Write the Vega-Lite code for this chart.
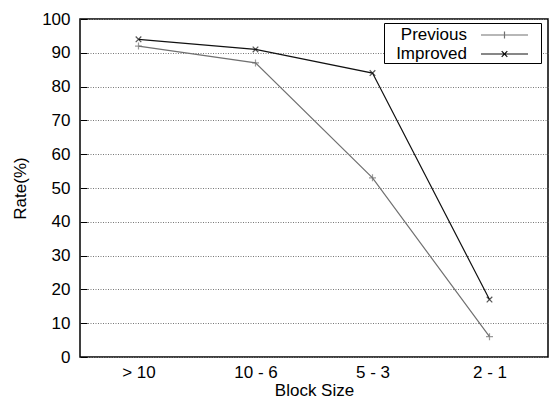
{
  "$schema": "https://vega.github.io/schema/vega-lite/v6.json",
  "width": 468,
  "height": 338,
  "autosize": {"type": "none"},
  "padding": {"left": 80, "top": 19, "right": 6, "bottom": 43},
  "background": "white",
  "config": {
    "font": "Liberation Sans",
    "view": {"stroke": "black", "strokeWidth": 1.5},
    "axis": {
      "labelFont": "Liberation Sans",
      "titleFont": "Liberation Sans",
      "labelFontSize": 17,
      "titleFontSize": 17,
      "titleFontWeight": "normal",
      "labelColor": "black",
      "titleColor": "black",
      "domain": false
    }
  },
  "data": {
    "values": [
      {"series": "Previous", "size": "> 10", "rate": 92},
      {"series": "Previous", "size": "10 - 6", "rate": 87},
      {"series": "Previous", "size": "5 - 3", "rate": 53},
      {"series": "Previous", "size": "2 - 1", "rate": 6},
      {"series": "Improved", "size": "> 10", "rate": 94},
      {"series": "Improved", "size": "10 - 6", "rate": 91},
      {"series": "Improved", "size": "5 - 3", "rate": 84},
      {"series": "Improved", "size": "2 - 1", "rate": 17}
    ]
  },
  "encoding": {
    "x": {
      "field": "size", "type": "ordinal", "sort": null,
      "scale": {"type": "point", "padding": 0.5},
      "axis": {"title": "Block Size", "labelAngle": 0, "ticks": false, "grid": false, "labelPadding": 7, "titlePadding": 2}
    },
    "y": {
      "field": "rate", "type": "quantitative",
      "scale": {"domain": [0, 100], "nice": false},
      "axis": {"title": "Rate(%)", "values": [0,10,20,30,40,50,60,70,80,90,100], "tickSize": -7, "tickColor": "black", "labelPadding": 17, "titlePadding": 12,
        "grid": true, "gridColor": "#777", "gridDash": [1, 1.5], "gridWidth": 1}
    },
    "color": {
      "field": "series", "type": "nominal",
      "scale": {"domain": ["Previous", "Improved"], "range": ["#707070", "#111111"]},
      "legend": null
    }
  },
  "layer": [
    {
      "mark": {"type": "line", "strokeWidth": 1.2},
      "encoding": {"detail": {"field": "series"}}
    },
    {
      "mark": {"type": "point", "filled": false, "strokeWidth": 1.2, "size": 49},
      "encoding": {
        "shape": {
          "field": "series", "type": "nominal",
          "scale": {"domain": ["Previous", "Improved"], "range": ["M-1,0H1M0,-1V1", "M-0.8,-0.8L0.8,0.8M-0.8,0.8L0.8,-0.8"]},
          "legend": null
        }
      }
    },
    {
      "mark": {"type": "point", "opacity": 0, "filled": false},
      "encoding": {
        "stroke": {
          "field": "series", "type": "nominal",
          "scale": {"domain": ["Previous", "Improved"], "range": ["#707070", "#111111"]},
          "legend": {
            "title": null, "orient": "none", "legendX": 304, "legendY": 4,
            "labelFontSize": 17, "labelFont": "Liberation Sans", "labelColor": "black",
            "symbolSize": 400, "symbolStrokeWidth": 1.2,
            "labelAlign": "right", "labelOffset": 60,
            "strokeColor": "black", "fillColor": "white", "padding": 1,
            "rowPadding": 0, "labelLimit": 200
          }
        },
        "shape": {
          "field": "series", "type": "nominal",
          "scale": {"domain": ["Previous", "Improved"], "range": ["M8.5,0H13.2M10.85,-0.35V0.35M14.1,0L14.1,0", "M8.5,0H13.2M10.57,-0.28L11.13,0.28M10.57,0.28L11.13,-0.28M14.1,0L14.1,0"]},
          "legend": {
            "title": null, "orient": "none", "legendX": 304, "legendY": 4,
            "labelFontSize": 17, "labelFont": "Liberation Sans", "labelColor": "black",
            "symbolSize": 400, "symbolStrokeWidth": 1.2,
            "labelAlign": "right", "labelOffset": 60,
            "strokeColor": "black", "fillColor": "white", "padding": 1,
            "rowPadding": 0, "labelLimit": 200
          }
        }
      }
    }
  ],
  "resolve": {"scale": {"stroke": "independent", "shape": "independent"}}
}
